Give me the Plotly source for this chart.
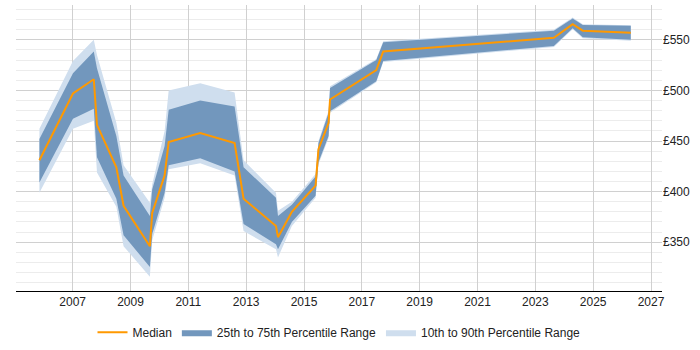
import plotly.graph_objects as go

years = [2005.85, 2007.01, 2007.73, 2007.84, 2008.51, 2008.76, 2009.67, 2009.75, 2010.18,
         2010.32, 2011.41, 2012.60, 2012.91, 2014.03, 2014.10, 2014.58, 2015.40, 2015.50,
         2015.85, 2015.90, 2017.50, 2017.74, 2023.64, 2024.29, 2024.64, 2026.30]
median = [431, 497, 511, 466, 424, 386, 346, 379, 416, 449, 458, 448, 393, 366, 355, 380,
          406, 442, 468, 491, 520, 538.5, 552, 565.5, 559, 557]
p25 = [409, 472, 482, 434, 393, 357, 325.5, 358, 399, 426, 433, 420, 368, 348, 343, 370,
       396, 429, 455, 479.5, 509, 529, 544, 561.5, 552.6, 550]
p75 = [452, 517, 538.5, 522, 455, 416, 376, 402, 445, 481, 490, 484, 424, 394, 376, 387,
       415, 448, 478, 502.5, 530, 547.5, 559, 571, 564.7, 563.8]
p10 = [399, 462, 470, 419, 385, 346, 316, 352, 394, 422, 428, 416, 361, 343, 335, 366,
       394, 427, 453, 478, 508, 528, 543, 560.5, 551.5, 549]
p90 = [462, 529, 550, 535, 468, 426, 389, 407, 460, 500, 507, 498, 431, 399, 381, 390,
       417.5, 450, 480, 504, 531, 548.5, 560, 572, 565.5, 564.5]

x_ticks = list(range(2007, 2028, 2))
y_ticks = [350, 400, 450, 500, 550]
y_labels = ["£350", "£400", "£450", "£500", "£550"]

fig = go.Figure()
fig.add_trace(go.Scatter(
    x=years + years[::-1], y=p90 + p10[::-1], fill="toself",
    fillcolor="rgb(207,222,238)", line=dict(width=0, color="rgb(207,222,238)"),
    mode="lines", name="10th to 90th Percentile Range", legendrank=3, hoverinfo="skip"))
fig.add_trace(go.Scatter(
    x=years + years[::-1], y=p75 + p25[::-1], fill="toself",
    fillcolor="rgb(114,151,189)", line=dict(width=0, color="rgb(114,151,189)"),
    mode="lines", name="25th to 75th Percentile Range", legendrank=2, hoverinfo="skip"))
fig.add_trace(go.Scatter(
    x=years, y=median, mode="lines", line=dict(color="rgb(255,153,0)", width=2),
    name="Median", legendrank=1))

fig.update_layout(
    width=700, height=350,
    margin=dict(l=16, r=38, t=5, b=58),
    paper_bgcolor="white", plot_bgcolor="white",
    font=dict(family="Liberation Sans, Arial, sans-serif", size=12, color="#222"),
    showlegend=True,
    legend=dict(orientation="h", x=0.5, xanchor="center", y=-0.14, yanchor="middle",
                font=dict(size=12, color="#222"), itemwidth=30, traceorder="normal"),
)
fig.update_xaxes(
    range=[2005.04, 2027.38], tickvals=x_ticks, ticktext=[str(v) for v in x_ticks],
    showgrid=True, gridcolor="#d0d0d0", gridwidth=1,
    showline=True, linecolor="black", linewidth=1, zeroline=False, ticks="",
)
fig.update_yaxes(
    range=[301.8, 584.4], side="right", tickvals=y_ticks, ticktext=y_labels,
    showgrid=True, gridcolor="#d0d0d0", gridwidth=1, zeroline=False, showline=False,
    minor=dict(dtick=10, tick0=300, showgrid=True, gridcolor="#ececec", gridwidth=1),
)

fig.write_html("out.html")
